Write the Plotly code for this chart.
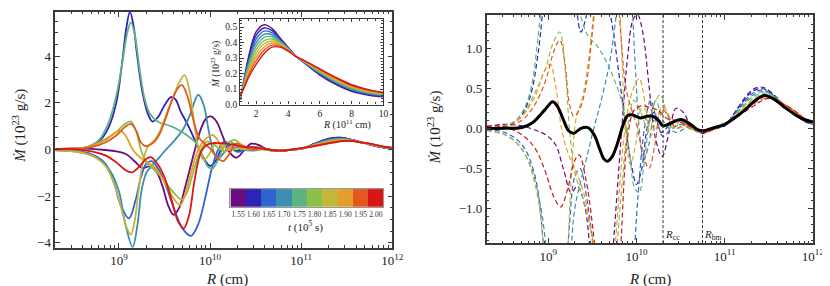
import numpy as np
import plotly.graph_objects as go

# ---------------- data ----------------
times = [1.55, 1.60, 1.65, 1.70, 1.75, 1.80, 1.85, 1.90, 1.95, 2.00]
time_labels = ["1.55", "1.60", "1.65", "1.70", "1.75", "1.80", "1.85", "1.90", "1.95", "2.00"]
colors = ["#6a0c7e", "#2c24b8", "#2f63cf", "#3a8fb0", "#5db383",
          "#8cbf48", "#c4b63a", "#e59e2c", "#e2581e", "#db1414"]

# inner region: log10(R / cm) and Mdot (1e23 g/s)
logR_155 = [8.3, 8.5, 8.7, 8.85, 8.97, 9.08, 9.17, 9.26, 9.33, 9.41, 9.48, 9.54, 9.6, 9.66, 9.72, 9.78, 9.84, 9.9, 9.96, 10.01, 10.07, 10.14, 10.21, 10.29, 10.37, 10.45, 10.53, 10.62, 10.72, 10.8, 10.9]
mdot_155 = [0.02, 0.05, 0.03, -0.02, -0.08, -0.2, -0.5, -0.8, -0.72, -0.95, -1.6, -2.4, -2.8, -2.5, -1.7, -0.8, 0.1, 0.9, 1.35, 1.42, 1.2, 0.55, -0.1, -0.35, -0.05, 0.25, 0.2, 0.02, -0.06, -0.05, 0.0]

logR_160 = [8.3, 8.5, 8.65, 8.78, 8.88, 8.97, 9.04, 9.08, 9.12, 9.16, 9.2, 9.26, 9.32, 9.37, 9.43, 9.5, 9.57, 9.62, 9.68, 9.75, 9.81, 9.88, 9.95, 10.0, 10.06, 10.13, 10.2, 10.28, 10.38, 10.5, 10.62, 10.75, 10.9]
mdot_160 = [0.0, 0.02, 0.1, 0.35, 0.9, 2.0, 3.9, 5.2, 5.9, 5.3, 4.0, 2.4, 1.5, 1.2, 1.4, 1.9, 2.25, 2.15, 1.6, 1.1, 0.6, 0.0, -0.5, -0.7, -0.5, 0.05, 0.2, -0.05, 0.05, 0.1, 0.02, -0.05, 0.0]

logR_165 = [8.3, 8.5, 8.7, 8.85, 8.95, 9.02, 9.11, 9.18, 9.24, 9.3, 9.36, 9.44, 9.52, 9.6, 9.7, 9.79, 9.87, 9.95, 10.02, 10.09, 10.16, 10.23, 10.3, 10.4, 10.5, 10.6, 10.75, 10.9]
mdot_165 = [-0.02, -0.05, -0.2, -0.6, -1.5, -2.4, -2.95, -2.2, -1.2, -0.6, -0.5, -0.9, -1.6, -2.5, -3.4, -3.7, -3.2, -2.0, -0.8, 0.0, 0.35, 0.1, -0.1, 0.0, 0.05, 0.0, -0.05, 0.0]

logR_170 = [8.3, 8.55, 8.75, 8.9, 9.0, 9.07, 9.15, 9.2, 9.25, 9.3, 9.37, 9.45, 9.52, 9.6, 9.7, 9.78, 9.87, 9.93, 9.98, 10.03, 10.08, 10.14, 10.2, 10.3, 10.45, 10.6, 10.75, 10.9]
mdot_170 = [-0.03, -0.1, -0.35, -0.9, -1.8, -3.2, -4.18, -3.3, -1.7, -1.0, -0.65, -0.3, 0.02, 0.35, 0.85, 1.5, 2.35, 1.9, 0.9, 0.0, -0.4, -0.2, 0.1, 0.05, -0.05, 0.02, -0.05, 0.0]

logR_175 = [8.3, 8.5, 8.65, 8.78, 8.88, 8.97, 9.04, 9.09, 9.13, 9.17, 9.22, 9.28, 9.33, 9.38, 9.45, 9.55, 9.65, 9.75, 9.84, 9.92, 9.98, 10.03, 10.08, 10.15, 10.22, 10.3, 10.4, 10.5, 10.6, 10.75, 10.9]
mdot_175 = [0.0, 0.03, 0.12, 0.4, 1.1, 2.3, 3.8, 5.0, 5.45, 5.0, 3.6, 2.2, 1.6, 1.35, 1.15, 1.03, 0.85, 0.6, 0.3, -0.3, -0.75, -0.8, -0.5, 0.1, 0.35, 0.1, 0.0, 0.05, 0.0, -0.05, 0.0]

logR_180 = [8.3, 8.55, 8.7, 8.85, 8.97, 9.05, 9.13, 9.19, 9.24, 9.3, 9.4, 9.5, 9.6, 9.69, 9.75, 9.82, 9.9, 9.97, 10.05, 10.12, 10.2, 10.27, 10.34, 10.42, 10.5, 10.6, 10.75, 10.9]
mdot_180 = [0.0, 0.05, 0.15, 0.45, 0.75, 1.05, 1.2, 0.75, 0.0, -0.55, -0.9, -1.35, -1.85, -2.15, -1.8, -0.9, 0.0, 0.35, 0.2, 0.0, 0.3, 0.42, 0.2, 0.0, 0.1, 0.0, -0.05, 0.0]

logR_185 = [8.3, 8.5, 8.7, 8.85, 8.95, 9.03, 9.09, 9.13, 9.17, 9.22, 9.27, 9.32, 9.38, 9.45, 9.52, 9.6, 9.67, 9.72, 9.77, 9.82, 9.87, 9.93, 9.99, 10.06, 10.13, 10.2, 10.3, 10.45, 10.6, 10.75, 10.9]
mdot_185 = [-0.03, -0.08, -0.25, -0.7, -1.5, -2.6, -3.4, -3.65, -3.1, -1.6, -0.4, 0.15, 0.35, 0.8, 1.5, 2.3, 2.95, 3.19, 2.6, 1.3, 0.1, -0.45, -0.2, 0.25, 0.2, 0.0, 0.05, 0.0, 0.02, -0.05, 0.0]

logR_190 = [8.3, 8.55, 8.7, 8.85, 8.95, 9.02, 9.08, 9.15, 9.22, 9.3, 9.4, 9.5, 9.6, 9.67, 9.72, 9.79, 9.87, 9.95, 10.03, 10.1, 10.16, 10.24, 10.32, 10.42, 10.52, 10.62, 10.75, 10.9]
mdot_190 = [0.0, 0.05, 0.15, 0.4, 0.7, 0.8, 0.55, 0.0, -0.3, -0.5, -0.8, -1.4, -2.1, -2.38, -2.0, -1.0, 0.0, 0.45, 0.62, 0.3, -0.1, 0.15, 0.25, 0.05, 0.1, 0.0, -0.05, 0.0]

logR_195 = [8.3, 8.55, 8.7, 8.85, 8.97, 9.06, 9.13, 9.19, 9.24, 9.29, 9.36, 9.43, 9.5, 9.58, 9.65, 9.69, 9.75, 9.82, 9.88, 9.94, 10.0, 10.07, 10.14, 10.21, 10.28, 10.36, 10.45, 10.55, 10.65, 10.75, 10.9]
mdot_195 = [0.0, 0.03, 0.1, 0.3, 0.6, 0.95, 1.1, 0.8, 0.3, 0.15, 0.25, 0.55, 1.2, 2.1, 2.65, 2.77, 2.3, 1.2, 0.5, 0.25, 0.05, -0.3, -0.5, -0.2, 0.25, 0.15, 0.0, 0.05, 0.0, -0.05, 0.0]

logR_200 = [8.3, 8.5, 8.7, 8.85, 8.97, 9.06, 9.14, 9.22, 9.3, 9.35, 9.42, 9.5, 9.58, 9.65, 9.71, 9.77, 9.83, 9.9, 9.97, 10.05, 10.15, 10.25, 10.35, 10.45, 10.55, 10.65, 10.75, 10.9]
mdot_200 = [0.03, 0.02, -0.08, -0.25, -0.55, -0.85, -0.98, -0.75, -0.4, -0.33, -0.6, -1.2, -2.2, -3.1, -3.38, -2.8, -1.3, -0.1, 0.22, 0.28, 0.26, 0.22, 0.12, 0.1, 0.05, 0.0, -0.05, 0.0]

# outer region (inset): R in units of 1e11 cm
R_outer = [1, 1.25, 1.5, 2, 2.5, 3, 3.5, 4, 4.5, 5, 6, 7, 8, 9, 10]
outer_155 = [0.030, 0.170, 0.300, 0.470, 0.515, 0.490, 0.430, 0.370, 0.310, 0.270, 0.190, 0.130, 0.085, 0.062, 0.050]
outer_160 = [0.033, 0.163, 0.286, 0.447, 0.494, 0.477, 0.423, 0.367, 0.310, 0.272, 0.194, 0.135, 0.090, 0.066, 0.053]
outer_165 = [0.037, 0.157, 0.271, 0.423, 0.474, 0.463, 0.417, 0.364, 0.310, 0.273, 0.199, 0.140, 0.095, 0.070, 0.056]
outer_170 = [0.040, 0.150, 0.257, 0.400, 0.453, 0.450, 0.410, 0.362, 0.310, 0.275, 0.203, 0.145, 0.099, 0.074, 0.059]
outer_175 = [0.043, 0.143, 0.242, 0.377, 0.433, 0.437, 0.403, 0.359, 0.310, 0.277, 0.208, 0.150, 0.104, 0.078, 0.062]
outer_180 = [0.047, 0.137, 0.228, 0.353, 0.412, 0.423, 0.397, 0.356, 0.310, 0.278, 0.212, 0.155, 0.109, 0.082, 0.066]
outer_185 = [0.050, 0.130, 0.213, 0.330, 0.392, 0.410, 0.390, 0.353, 0.310, 0.280, 0.217, 0.160, 0.114, 0.086, 0.069]
outer_190 = [0.053, 0.123, 0.199, 0.307, 0.371, 0.397, 0.383, 0.351, 0.310, 0.282, 0.221, 0.165, 0.118, 0.090, 0.072]
outer_195 = [0.057, 0.117, 0.184, 0.283, 0.351, 0.383, 0.377, 0.348, 0.310, 0.283, 0.226, 0.170, 0.123, 0.094, 0.075]
outer_200 = [0.060, 0.110, 0.170, 0.260, 0.330, 0.370, 0.370, 0.345, 0.310, 0.285, 0.230, 0.175, 0.128, 0.098, 0.078]

# time-averaged accretion rate (right panel, black)
logR_mean = [8.3, 8.5, 8.7, 8.82, 8.96, 9.05, 9.1, 9.17, 9.23, 9.29, 9.37, 9.45, 9.52, 9.58, 9.63, 9.67, 9.72, 9.78, 9.85, 9.9, 9.95, 10.04, 10.12, 10.18, 10.25, 10.3, 10.38, 10.5, 10.6, 10.7, 10.76, 10.85, 11.0, 11.1, 11.22, 11.35, 11.45, 11.55, 11.67, 11.8, 11.9, 12.0]
mdot_mean = [0.0, 0.0, 0.01, 0.07, 0.23, 0.33, 0.28, 0.11, -0.03, -0.06, 0.0, 0.01, -0.08, -0.25, -0.38, -0.41, -0.36, -0.2, 0.05, 0.16, 0.17, 0.13, 0.15, 0.15, 0.1, 0.03, 0.06, 0.11, 0.06, -0.02, -0.03, 0.0, 0.05, 0.12, 0.22, 0.35, 0.41, 0.37, 0.27, 0.17, 0.11, 0.08]

R_cc = 2.0e10
R_bm = 5.6e10

inner_logR = [logR_155, logR_160, logR_165, logR_170, logR_175, logR_180, logR_185, logR_190, logR_195, logR_200]
inner_mdot = [mdot_155, mdot_160, mdot_165, mdot_170, mdot_175, mdot_180, mdot_185, mdot_190, mdot_195, mdot_200]
outer_mdot = [outer_155, outer_160, outer_165, outer_170, outer_175, outer_180, outer_185, outer_190, outer_195, outer_200]

# ---------------- figure ----------------
W, H = 830, 286
def px_x(a, b):
    return [a / W, b / W]
def px_y(top, bottom):
    return [(H - bottom) / H, (H - top) / H]

FONT = "Liberation Serif, Times New Roman, Times, serif"
FRAME = "#3a3a3a"

fig = go.Figure()

for i in range(len(times)):
    R_full = [10 ** l for l in inner_logR[i]] + [r * 1e11 for r in R_outer]
    M_full = inner_mdot[i] + outer_mdot[i]
    fig.add_trace(go.Scatter(x=R_full, y=M_full, mode="lines", xaxis="x", yaxis="y",
                             line=dict(color=colors[i], width=1.8, shape="spline", smoothing=1.0),
                             showlegend=False, hoverinfo="skip"))
    fig.add_trace(go.Scatter(x=R_full, y=M_full, mode="lines", xaxis="x2", yaxis="y2",
                             line=dict(color=colors[i], width=1.2, dash="5px,3px", shape="spline", smoothing=1.0),
                             showlegend=False, hoverinfo="skip"))
    fig.add_trace(go.Scatter(x=R_outer, y=outer_mdot[i], mode="lines", xaxis="x3", yaxis="y3",
                             line=dict(color=colors[i], width=1.4, shape="spline", smoothing=1.0),
                             showlegend=False, hoverinfo="skip"))

fig.add_trace(go.Scatter(x=[10 ** l for l in logR_mean], y=mdot_mean, mode="lines", xaxis="x2", yaxis="y2",
                         line=dict(color="black", width=3, shape="spline", smoothing=1.0),
                         showlegend=False, hoverinfo="skip"))

# colour bar as a heatmap
fig.add_trace(go.Heatmap(x=times, y=[0], z=[list(range(len(times)))], xaxis="x4", yaxis="y4",
                         colorscale=[[k / (len(colors) - 1), c] for k, c in enumerate(colors)],
                         zmin=0, zmax=len(colors) - 1, showscale=False, hoverinfo="skip"))

tickfont = dict(family=FONT, size=13, color="#222")
logticks = [1e9, 1e10, 1e11, 1e12]
logtext = ["10<sup>9</sup>", "10<sup>10</sup>", "10<sup>11</sup>", "10<sup>12</sup>"]

def frame_axis(**kw):
    d = dict(showline=True, linecolor=FRAME, linewidth=1.6, mirror="allticks", ticks="inside",
             ticklen=5, tickwidth=1, tickcolor=FRAME, showgrid=False, zeroline=False,
             tickfont=tickfont)
    d.update(kw)
    return d

xr = [np.log10(2e8), 12]
fig.update_layout(
    width=W, height=H, margin=dict(l=0, r=0, t=0, b=0),
    paper_bgcolor="white", plot_bgcolor="rgba(0,0,0,0)",
    font=dict(family=FONT),
    xaxis=frame_axis(type="log", range=xr, domain=px_x(48, 390), anchor="y",
                     tickmode="array", tickvals=logticks, ticktext=logtext,
                     minor=dict(ticks="inside", ticklen=2.5, tickcolor=FRAME, dtick="D1")),
    yaxis=frame_axis(range=[-4.21, 5.9], domain=px_y(4, 244), anchor="x",
                     tickvals=[-4, -2, 0, 2, 4],
                     minor=dict(ticks="inside", ticklen=2.5, tickcolor=FRAME, dtick=0.5)),
    xaxis2=frame_axis(type="log", range=xr, domain=px_x(485.7, 816.7), anchor="y2",
                      tickmode="array", tickvals=logticks, ticktext=logtext,
                      minor=dict(ticks="inside", ticklen=2.5, tickcolor=FRAME, dtick="D1")),
    yaxis2=frame_axis(range=[-1.43, 1.41], domain=px_y(7.3, 239.3), anchor="x2",
                      tickvals=[-1.0, -0.5, 0.0, 0.5, 1.0], tickformat=".1f",
                      minor=dict(ticks="inside", ticklen=2.5, tickcolor=FRAME, dtick=0.1)),
    xaxis3=frame_axis(range=[1, 10], domain=px_x(235.7, 381), anchor="y3",
                      tickvals=[2, 4, 6, 8, 10], ticklen=3.5, linewidth=1.3,
                      tickfont=dict(family=FONT, size=9.5, color="#222"),
                      minor=dict(ticks="inside", ticklen=2, tickcolor=FRAME, dtick=0.5)),
    yaxis3=frame_axis(range=[0, 0.553], domain=px_y(11, 98.3), anchor="x3",
                      tickvals=[0, 0.1, 0.2, 0.3, 0.4, 0.5], tickformat=".1f", ticklen=3.5, linewidth=1.3,
                      tickfont=dict(family=FONT, size=9.5, color="#222"),
                      minor=dict(ticks="inside", ticklen=2, tickcolor=FRAME, dtick=0.02)),
    xaxis4=dict(range=[1.525, 2.025], domain=px_x(225.7, 381), anchor="y4",
                showline=True, linecolor="#999", linewidth=1, mirror=True, ticks="",
                tickvals=times, ticktext=time_labels, tickangle=0, showgrid=False, zeroline=False,
                tickfont=dict(family=FONT, size=7.5, color="#333")),
    yaxis4=dict(range=[-0.5, 0.5], domain=px_y(184.3, 202.3), anchor="x4",
                showline=True, linecolor="#999", linewidth=1, mirror=True, ticks="",
                showticklabels=False, showgrid=False, zeroline=False),
)

# reference radii in the right panel
for Rv, lab in [(R_cc, "cc"), (R_bm, "bm")]:
    fig.add_shape(type="line", xref="x2", yref="y2 domain", x0=Rv, x1=Rv, y0=0, y1=1,
                  line=dict(color="#333", width=1, dash="3px,2px"))
    fig.add_annotation(xref="x2", yref="y2 domain", x=np.log10(Rv), y=0, xanchor="left", yanchor="bottom",
                       text="<i>R</i><sub>" + lab + "</sub>", showarrow=False, xshift=0, yshift=-1,
                       font=dict(family=FONT, size=11, color="#222"))

title_font = dict(family=FONT, size=15, color="#222")
ann = [
    (12, 120, "<i>Ṁ</i> (10<sup>23</sup> g/s)", -90, title_font),
    (222, 276, "<i>R</i> (cm)", 0, title_font),
    (433, 122, "<i>Ṁ</i> (10<sup>23</sup> g/s)", -90, title_font),
    (651, 276, "<i>R</i> (cm)", 0, title_font),
    (344, 119, "<i>R</i> (10<sup>11</sup> cm)", 0, dict(family=FONT, size=10, color="#222")),
    (210, 57, "<i>Ṁ</i> (10<sup>23</sup> g/s)", -90, dict(family=FONT, size=9.5, color="#222")),
    (302, 222, "<i>t</i> (10<sup>5</sup> s)", 0, dict(family=FONT, size=11, color="#222")),
]
for x, y, t, ang, f in ann:
    fig.add_annotation(xref="paper", yref="paper", x=x / W, y=(H - y) / H, text=t, textangle=ang,
                       showarrow=False, xanchor="center", yanchor="middle", font=f)

fig.write_html("out.html")
